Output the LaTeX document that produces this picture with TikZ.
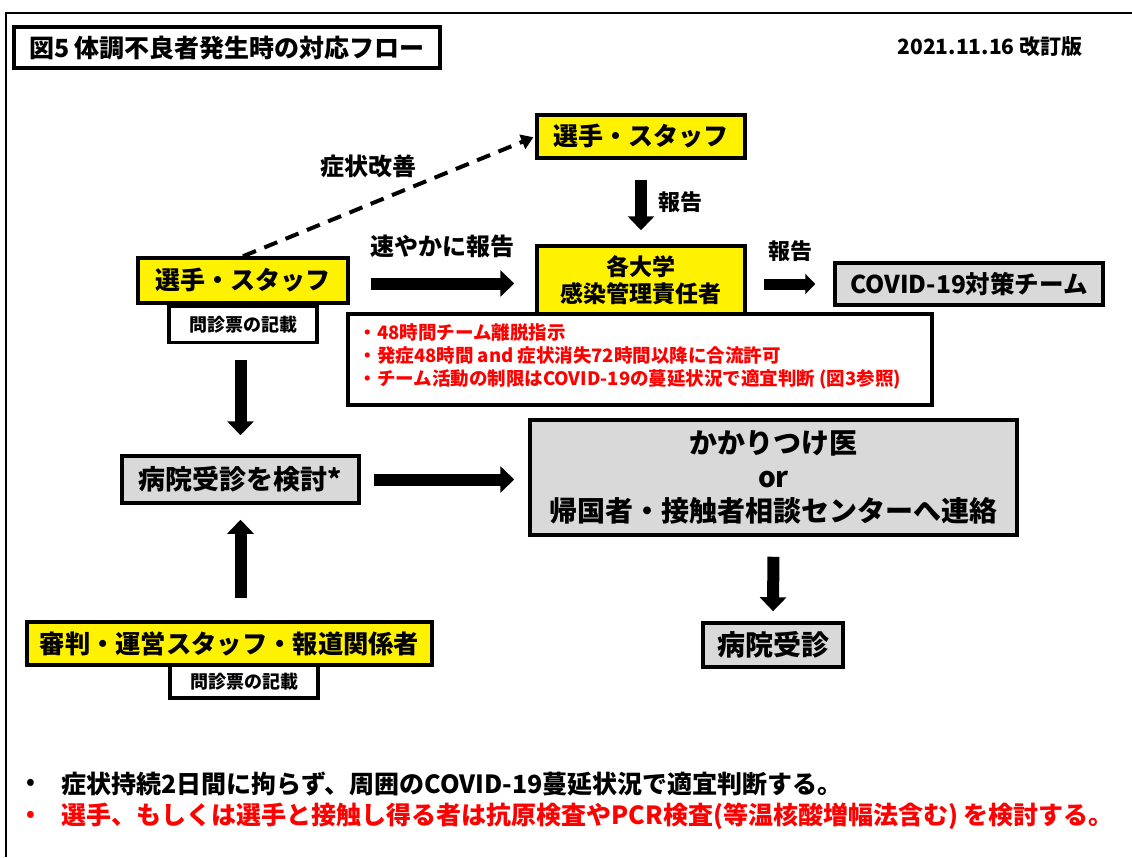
\documentclass[tikz,border=0pt]{standalone}
\usepackage{fontspec}
\setmainfont{Noto Sans CJK JP}
\usepackage{tikz}
\usetikzlibrary{positioning}
\usetikzlibrary{arrows.meta}
\definecolor{boxgray}{RGB}{217,217,217}
\definecolor{alertred}{RGB}{255,0,0}
\newcommand{\fsz}[1]{\fontsize{#1}{#1}\selectfont\bfseries}

\begin{document}
\begin{tikzpicture}
        [x=1pt,y=-1pt,
         box/.style={draw,line width=3.5pt,inner sep=0pt,align=center},
         ybox/.style={box,fill=yellow},
         gbox/.style={box,fill=boxgray},
         wbox/.style={box,fill=white},
         bar/.style={line width=12pt,-{Triangle[length=14pt,width=26pt]}}]
      \useasboundingbox (0,0) rectangle (1132,857);
      \draw[line width=2pt] (6,857) -- (6,13) -- (1132,13);
      % title and date
      \node[wbox,minimum width=426pt,minimum height=41pt,font=\fsz{25}] (title) at (227,47.5) {図5 体調不良者発生時の対応フロー};
      \node[anchor=east,font=\fsz{21}] (date) at (1086,47) {2021.11.16 改訂版};
      % players and staff
      \node[ybox,minimum width=210pt,minimum height=45pt,font=\fsz{25}] (S0) at (243,280.5) {選手・スタッフ};
      \node[wbox,minimum width=148pt,minimum height=36pt,font=\fsz{18}] (Q1) [below=0pt of S0] {問診票の記載};
      \node[ybox,minimum width=208pt,minimum height=43pt,font=\fsz{25}] (S1) at (641,136.5) {選手・スタッフ};
      \node[ybox,minimum width=208pt,minimum height=68pt,font={\fontsize{23}{27}\selectfont\bfseries}] (U) at (641,280) {各大学\\感染管理責任者};
      \node[gbox,minimum width=268pt,minimum height=42pt,font=\fsz{24.5}] (T) at (969,284) {COVID-19対策チーム};
      \node[wbox,minimum width=584pt,minimum height=91pt] (R) at (640,359.5) {};
      \node[anchor=north west,align=left,text=alertred,font={\fontsize{18.5}{23}\selectfont\bfseries}] (Rtext) at (355,320) {・48時間チーム離脱指示\\・発症48時間 and 症状消失72時間以降に合流許可\\・チーム活動の制限はCOVID-19の蔓延状況で適宜判断 (図3参照)};
      % hospital
      \node[gbox,minimum width=237pt,minimum height=47pt,font=\fsz{27}] (H1) at (240.5,479.5) {病院受診を検討*};
      \node[gbox,minimum width=487pt,minimum height=115pt,font={\fontsize{28}{34}\selectfont\bfseries}] (C) at (773.5,477.5) {かかりつけ医\\or\\帰国者・接触者相談センターへ連絡};
      \node[gbox,minimum width=140pt,minimum height=44pt,font=\fsz{28}] (H2) at (773,645) {病院受診};
      \node[ybox,minimum width=405pt,minimum height=43pt,font=\fsz{25.3}] (J) at (229.5,643.5) {審判・運営スタッフ・報道関係者};
      \node[wbox,minimum width=148pt,minimum height=33pt,font=\fsz{18}] (Q2) at (244,681.5) {問診票の記載};
      % arrows
      \draw[line width=4pt,dash pattern=on 14pt off 9pt,-{Triangle[length=12pt,width=15pt]},shorten >=2pt] (S0.north) -- (S1.west)
            node[pos=0.43,above=22pt,font=\fsz{24}] {症状改善};
      \path [bar,shorten <=20pt,shorten >=14pt] (S1) edge node[right=8pt,font=\fsz{22}] {報告} (U);
      \draw [bar,shorten <=21pt,shorten >=21pt] ([yshift=-3pt]S0.east) -- ([yshift=-3pt]S0.east -| U.west)
            node[midway,above=16pt,font=\fsz{24}] {速やかに報告};
      \draw [bar,line width=11pt,-{Triangle[length=10pt,width=20pt]},shorten <=17pt,shorten >=18pt] (U.east |- T) -- (T.west)
            node[midway,above=14pt,font=\fsz{22}] {報告};
      \draw [bar,shorten <=16pt,shorten >=19pt] (Q1.south -| H1) -- (H1.north);
      \draw [bar,shorten <=22pt,shorten >=15pt] (H1.south |- J.north) -- (H1.south);
      \draw [bar,shorten <=13pt,shorten >=14pt] (H1.east) -- (H1.east -| C.west);
      \draw [bar,shorten <=20pt,shorten >=10pt] (C.south) -- (H2.north);
      % notes
      \node[font=\fsz{22}] (b1) at (31,784) {•};
      \node[anchor=west,font=\fsz{25}] (L1) at (58,784) {症状持続2日間に拘らず、周囲のCOVID-19蔓延状況で適宜判断する。};
      \node[font=\fsz{22},text=alertred] (b2) at (31,816) {•};
      \node[anchor=west,font=\fsz{25},text=alertred] (L2) at (58,816) {選手、もしくは選手と接触し得る者は抗原検査やPCR検査(等温核酸増幅法含む) を検討する。};
      \end{tikzpicture}
\end{document}
